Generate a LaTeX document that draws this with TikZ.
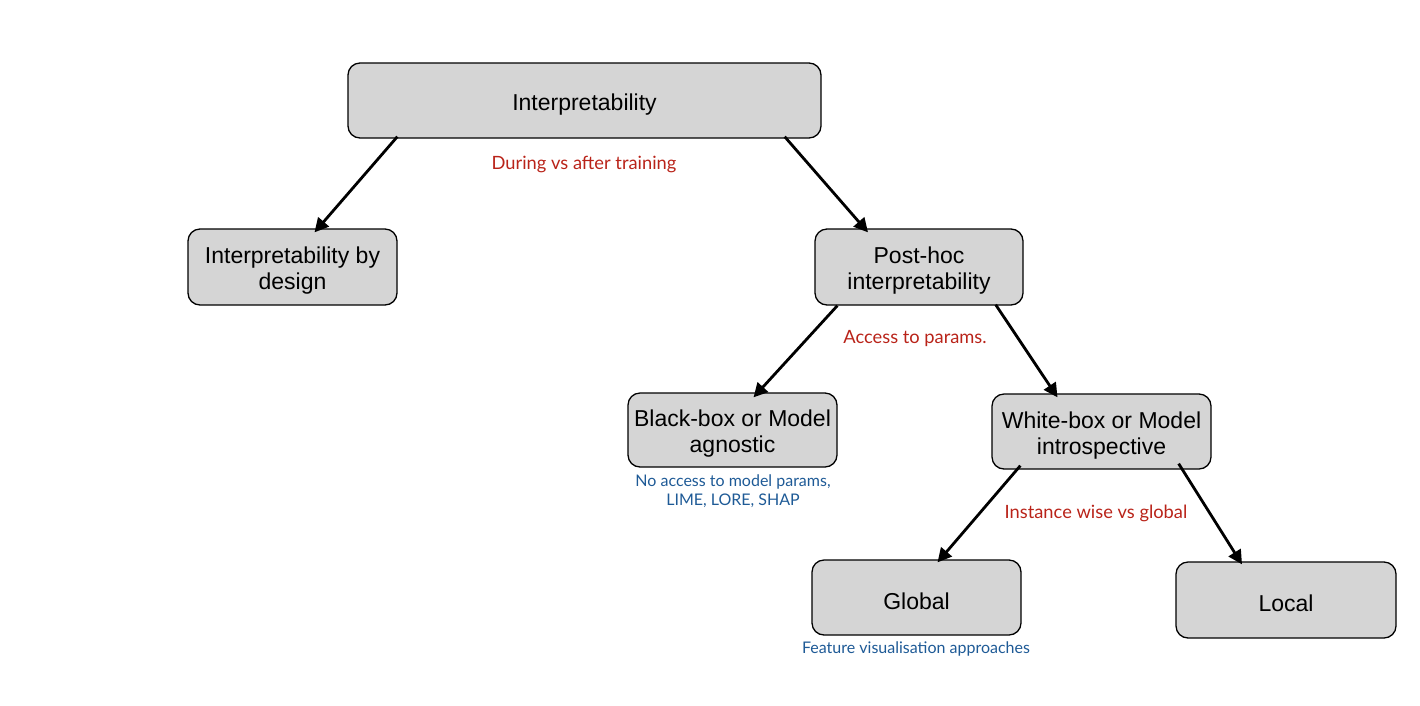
\documentclass[tikz,border=0pt]{standalone}
\usepackage{fontspec}
\setmainfont{Liberation Sans}
\newfontfamily\labfont{Lato}
\usetikzlibrary{arrows.meta}
\definecolor{boxgray}{RGB}{213,213,213}
\definecolor{labred}{RGB}{185,35,25}
\definecolor{labblue}{RGB}{30,90,150}
\newcommand{\tp}{\rule{0pt}{24pt}}
\tikzset{
  box/.style={draw=black, line width=1.3pt, fill=boxgray, rounded corners=12pt, align=center,
    font=\fontsize{23}{26}\selectfont, inner sep=0pt},
  arr/.style={line width=2.8pt, -{Triangle[length=14pt,width=14pt]}},
  redlab/.style={text=labred, font=\labfont\fontsize{18.3}{20}\selectfont},
  bluelab/.style={text=labblue, font=\labfont\fontsize{16}{19}\selectfont, align=center},
}
\begin{document}
\begin{tikzpicture}[x=1pt,y=-1pt]
\useasboundingbox (0,0) rectangle (1420,705);
\node[box, minimum width=473pt, minimum height=75pt] (top) at (584.5,100.5) {\tp Interpretability};
\node[box, minimum width=209pt, minimum height=76pt] (byd) at (292.5,267) {\tp Interpretability by\\design};
\node[box, minimum width=208pt, minimum height=76pt] (post) at (919,267) {\tp Post-hoc\\interpretability};
\node[box, minimum width=209pt, minimum height=74pt] (black) at (732.5,430) {\tp Black-box or Model\\agnostic};
\node[box, minimum width=219pt, minimum height=75pt] (white) at (1101.5,431.5) {\tp White-box or Model\\introspective};
\node[box, minimum width=209pt, minimum height=75pt] (global) at (916.5,597.5) {\tp Global};
\node[box, minimum width=220pt, minimum height=76pt] (local) at (1286,600) {\tp Local};

\node[redlab] (l1) at (584,164) {During vs after training};
\node[redlab] (l2) at (915,339) {Access to params.};
\node[redlab] (l3) at (1096,513) {Instance wise vs global};
\node[bluelab] (b1) at (733,491) {No access to model params,\\LIME, LORE, SHAP};
\node[bluelab] (b2) at (916,649) {Feature visualisation approaches};

\draw[arr] ([xshift=50pt,yshift=2pt]top.south west) -- ([xshift=22pt,yshift=-4pt]byd.north);
\draw[arr] ([xshift=-37pt,yshift=2pt]top.south east) -- ([xshift=-51pt,yshift=-4pt]post.north);
\draw[arr] ([xshift=23pt,yshift=0pt]post.south west) -- ([xshift=21pt,yshift=-5pt]black.north);
\draw[arr] ([xshift=-28pt,yshift=1pt]post.south east) -- ([xshift=-44pt,yshift=-4pt]white.north);
\draw[arr] ([xshift=29pt,yshift=4pt]white.south west) -- ([xshift=21pt,yshift=-3pt]global.north);
\draw[arr] ([xshift=-33pt,yshift=6pt]white.south east) -- ([xshift=-44pt,yshift=-3pt]local.north);
\end{tikzpicture}
\end{document}
